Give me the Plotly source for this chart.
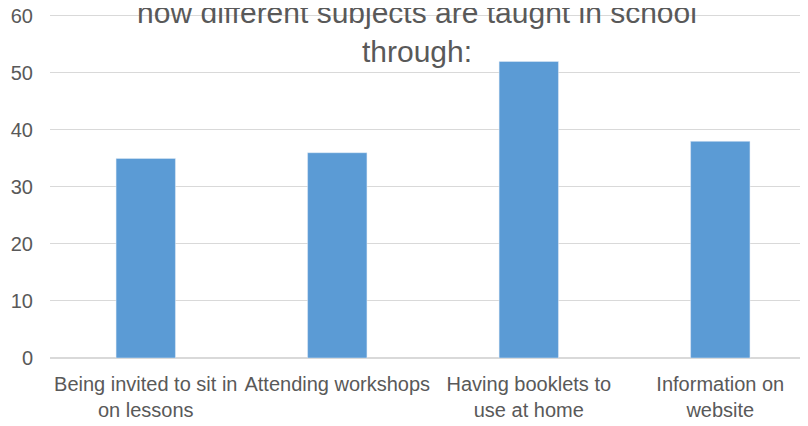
import plotly.graph_objects as go

categories = ["Being invited to sit in<br>on lessons", "Attending workshops",
              "Having booklets to<br>use at home", "Information on<br>website"]
values = [35, 36, 52, 38]
title_text = "how different subjects are taught in school<br>through:"

fig = go.Figure(go.Bar(
    x=categories, y=values, marker_color="#5b9bd5", width=0.31,
))

fig.update_layout(
    width=808, height=426,
    margin=dict(l=42, r=8, t=5, b=76),
    paper_bgcolor="white", plot_bgcolor="white",
    font=dict(family="Liberation Sans, Arial", color="#595959", size=20),
    title=dict(text=title_text, x=409/808, xanchor="center", xref="container",
               y=1 - 15/426, yref="container", yanchor="middle",
               font=dict(size=30, color="#595959")),
    showlegend=False,
)
fig.update_xaxes(range=[-0.5, 3.458], showgrid=False, showline=False, ticks="",
                 automargin=False, ticklabelstandoff=12,
                 tickfont=dict(size=20, color="#595959"))
fig.update_yaxes(range=[0, 60.5], dtick=10, gridcolor="#d9d9d9", zeroline=True,
                 zerolinecolor="#d9d9d9", showline=False, ticks="", automargin=False,
                 ticklabeloverflow="allow", ticklabelstandoff=16,
                 tickfont=dict(size=20, color="#595959"))

fig.write_html("out.html")
